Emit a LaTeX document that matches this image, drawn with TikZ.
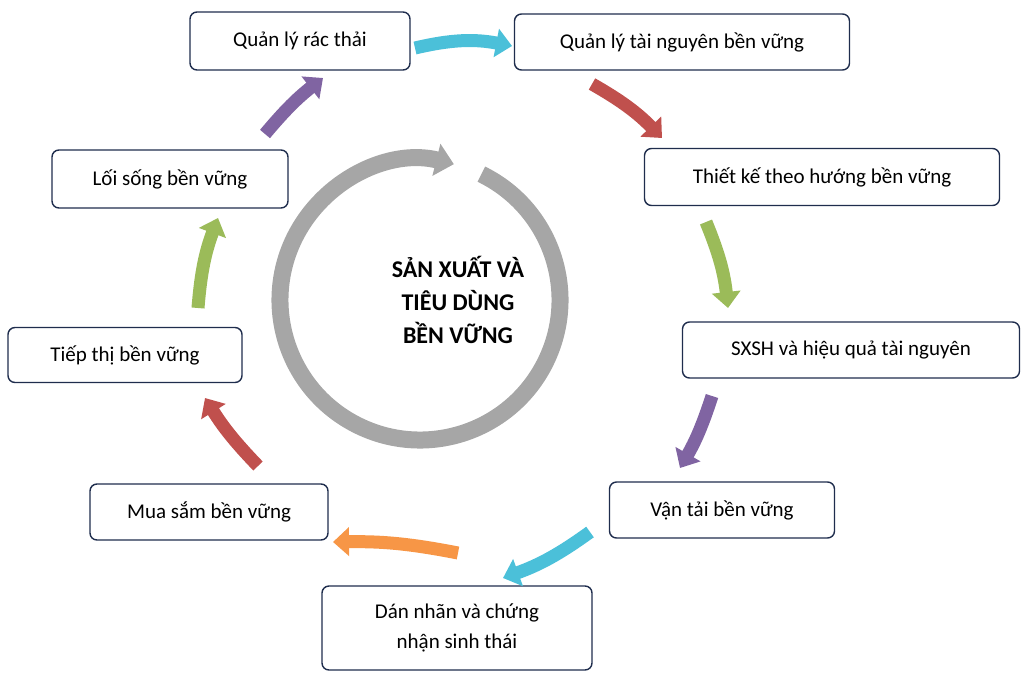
\documentclass[tikz,border=0pt]{standalone}
\usepackage{fontspec}
\setmainfont{Carlito}
\usetikzlibrary{arrows.meta,calc}
\definecolor{bordc}{HTML}{1F2D4D}
\definecolor{cyanA}{HTML}{4BC0D9}
\definecolor{redA}{HTML}{C0504D}
\definecolor{greenA}{HTML}{9BBB59}
\definecolor{purpA}{HTML}{8064A2}
\definecolor{orA}{HTML}{F79646}
\definecolor{ringc}{HTML}{A6A6A6}
\tikzset{
  box/.style={draw=bordc,line width=1.4pt,rounded corners=7pt,fill=white,font=\fontsize{21}{26}\selectfont,align=center,inner sep=0pt},
  blk/.style={line width=13pt,-{Triangle[length=16pt,width=28pt]}}
}
\begin{document}
\begin{tikzpicture}[x=1pt,y=-1pt]
\useasboundingbox (0,0) rectangle (1024,680);
\node[box,minimum width=220pt,minimum height=58pt] (b1) at (300,41) {Quản lý rác thải};
\node[box,minimum width=335pt,minimum height=56pt] (b2) at (682,42) {Quản lý tài nguyên bền vững};
\node[box,minimum width=355pt,minimum height=57pt] (b3) at (822,177) {Thiết kế theo hướng bền vững};
\node[box,minimum width=337pt,minimum height=56pt] (b4) at (851,350) {SXSH và hiệu quả tài nguyên};
\node[box,minimum width=225pt,minimum height=56pt] (b5) at (722,510) {Vận tải bền vững};
\node[box,minimum width=270pt,minimum height=84pt] (b6) at (457,628) {Dán nhãn và chứng\\[4pt]nhận sinh thái};
\node[box,minimum width=238pt,minimum height=56pt] (b7) at (209,512) {Mua sắm bền vững};
\node[box,minimum width=234pt,minimum height=55pt] (b8) at (125,355) {Tiếp thị bền vững};
\node[box,minimum width=236pt,minimum height=58pt] (b9) at (170,179) {Lối sống bền vững};
\coordinate (c) at (420,300);
\draw[ringc,line width=17pt,-{Triangle[length=18pt,width=32pt]}] ($(c)+(-64:140)$) arc[start angle=-64,end angle=284,radius=140];
\node[font=\fontsize{24}{33}\selectfont\bfseries,align=center] (ct) at (458,300) {SẢN XUẤT VÀ\\TIÊU DÙNG\\BỀN VỮNG};
\coordinate (a1s) at (415,48); \coordinate (a1e) at (512,46);
\draw[blk,cyanA] (a1s) to[bend left=12] (a1e);
\coordinate (a2s) at (592,84); \coordinate (a2e) at (662,138);
\draw[blk,redA] (a2s) to[bend left=8] (a2e);
\coordinate (a3s) at (706,222); \coordinate (a3e) at (728,308);
\draw[blk,greenA] (a3s) to[bend left=8] (a3e);
\coordinate (a4s) at (712,396); \coordinate (a4e) at (680,468);
\draw[blk,purpA] (a4s) to[bend left=6] (a4e);
\coordinate (a5s) at (590,532); \coordinate (a5e) at (503,578);
\draw[blk,cyanA] (a5s) to[bend left=8] (a5e);
\coordinate (a6s) at (458,553); \coordinate (a6e) at (333,542);
\draw[blk,orA] (a6s) to[bend right=6] (a6e);
\coordinate (a7s) at (258,466); \coordinate (a7e) at (205,398);
\draw[blk,redA] (a7s) to[bend left=6] (a7e);
\coordinate (a8s) at (198,308); \coordinate (a8e) at (218,218);
\draw[blk,greenA] (a8s) to[bend left=8] (a8e);
\coordinate (a9s) at (265,134); \coordinate (a9e) at (323,78);
\draw[blk,purpA] (a9s) to[bend left=6] (a9e);
\end{tikzpicture}
\end{document}
